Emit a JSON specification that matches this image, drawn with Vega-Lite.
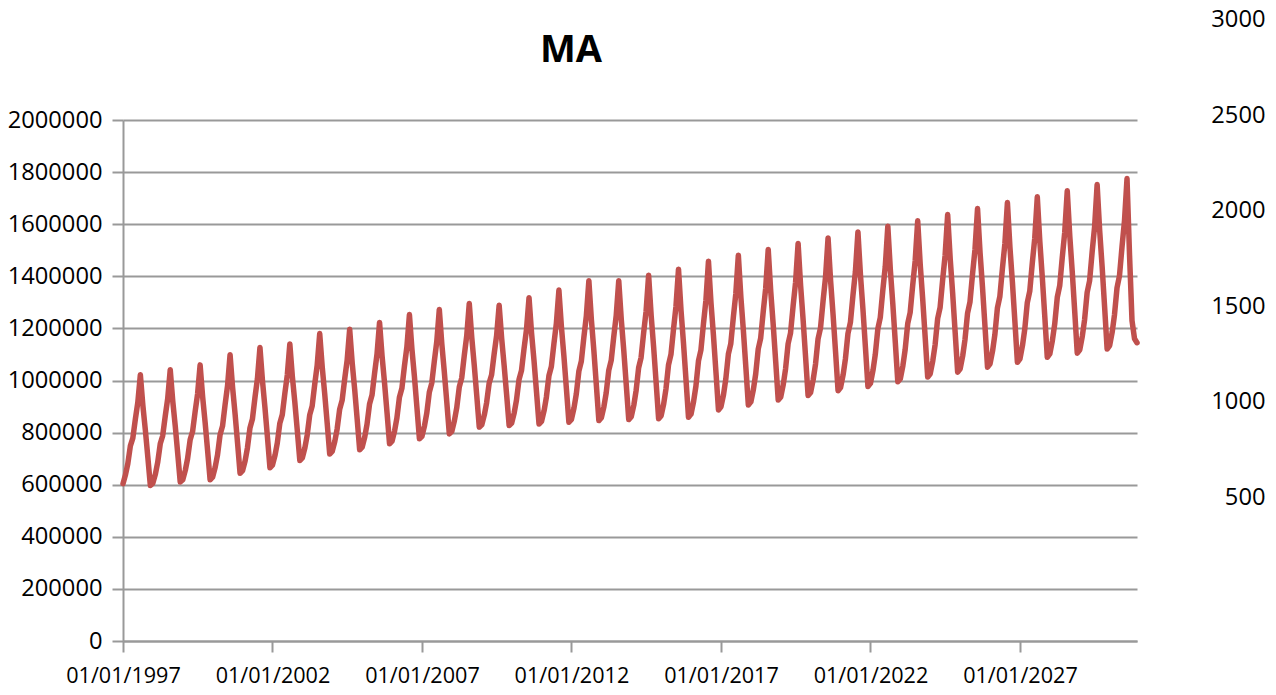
{
"$schema":"https://vega.github.io/schema/vega-lite/v6.json",
"width":1014,"height":521,
"autosize":{"type":"none"},
"padding":{"left":123,"top":120,"right":139,"bottom":54},
"background":"white",
"config":{"view":{"stroke":null},"font":"Open Sans"},
"title":{"text":"MA","font":"Open Sans","fontSize":38,"fontWeight":"bold","color":"#000000","anchor":"middle","frame":"group","dx":-59,"dy":112,"baseline":"alphabetic","offset":20},
"layer":[
{"data":{"values":[
{"d":"1997-01-01","v":604000},{"d":"1997-02-01","v":639000},{"d":"1997-03-01","v":681000},{"d":"1997-04-01","v":749000},{"d":"1997-05-01","v":779000},{"d":"1997-06-01","v":852000},{"d":"1997-07-01","v":916000},{"d":"1997-08-01","v":1022000},{"d":"1997-09-01","v":903000},{"d":"1997-10-01","v":810000},{"d":"1997-11-01","v":703000},{"d":"1997-12-01","v":597000},
{"d":"1998-01-01","v":606000},{"d":"1998-02-01","v":641000},{"d":"1998-03-01","v":686000},{"d":"1998-04-01","v":757000},{"d":"1998-05-01","v":788000},{"d":"1998-06-01","v":863000},{"d":"1998-07-01","v":930000},{"d":"1998-08-01","v":1041000},{"d":"1998-09-01","v":920000},{"d":"1998-10-01","v":826000},{"d":"1998-11-01","v":718000},{"d":"1998-12-01","v":610000},
{"d":"1999-01-01","v":619000},{"d":"1999-02-01","v":655000},{"d":"1999-03-01","v":700000},{"d":"1999-04-01","v":772000},{"d":"1999-05-01","v":804000},{"d":"1999-06-01","v":880000},{"d":"1999-07-01","v":948000},{"d":"1999-08-01","v":1060000},{"d":"1999-09-01","v":937000},{"d":"1999-10-01","v":840000},{"d":"1999-11-01","v":729000},{"d":"1999-12-01","v":619000},
{"d":"2000-01-01","v":629000},{"d":"2000-02-01","v":667000},{"d":"2000-03-01","v":715000},{"d":"2000-04-01","v":792000},{"d":"2000-05-01","v":825000},{"d":"2000-06-01","v":907000},{"d":"2000-07-01","v":979000},{"d":"2000-08-01","v":1099000},{"d":"2000-09-01","v":972000},{"d":"2000-10-01","v":872000},{"d":"2000-11-01","v":758000},{"d":"2000-12-01","v":644000},
{"d":"2001-01-01","v":654000},{"d":"2001-02-01","v":692000},{"d":"2001-03-01","v":741000},{"d":"2001-04-01","v":818000},{"d":"2001-05-01","v":852000},{"d":"2001-06-01","v":934000},{"d":"2001-07-01","v":1006000},{"d":"2001-08-01","v":1127000},{"d":"2001-09-01","v":998000},{"d":"2001-10-01","v":896000},{"d":"2001-11-01","v":781000},{"d":"2001-12-01","v":665000},
{"d":"2002-01-01","v":675000},{"d":"2002-02-01","v":713000},{"d":"2002-03-01","v":760000},{"d":"2002-04-01","v":836000},{"d":"2002-05-01","v":869000},{"d":"2002-06-01","v":950000},{"d":"2002-07-01","v":1021000},{"d":"2002-08-01","v":1140000},{"d":"2002-09-01","v":1015000},{"d":"2002-10-01","v":917000},{"d":"2002-11-01","v":805000},{"d":"2002-12-01","v":693000},
{"d":"2003-01-01","v":703000},{"d":"2003-02-01","v":742000},{"d":"2003-03-01","v":790000},{"d":"2003-04-01","v":868000},{"d":"2003-05-01","v":902000},{"d":"2003-06-01","v":985000},{"d":"2003-07-01","v":1058000},{"d":"2003-08-01","v":1180000},{"d":"2003-09-01","v":1051000},{"d":"2003-10-01","v":949000},{"d":"2003-11-01","v":834000},{"d":"2003-12-01","v":718000},
{"d":"2004-01-01","v":728000},{"d":"2004-02-01","v":766000},{"d":"2004-03-01","v":814000},{"d":"2004-04-01","v":890000},{"d":"2004-05-01","v":924000},{"d":"2004-06-01","v":1005000},{"d":"2004-07-01","v":1077000},{"d":"2004-08-01","v":1197000},{"d":"2004-09-01","v":1067000},{"d":"2004-10-01","v":966000},{"d":"2004-11-01","v":850000},{"d":"2004-12-01","v":734000},
{"d":"2005-01-01","v":744000},{"d":"2005-02-01","v":783000},{"d":"2005-03-01","v":832000},{"d":"2005-04-01","v":910000},{"d":"2005-05-01","v":944000},{"d":"2005-06-01","v":1027000},{"d":"2005-07-01","v":1101000},{"d":"2005-08-01","v":1223000},{"d":"2005-09-01","v":1093000},{"d":"2005-10-01","v":990000},{"d":"2005-11-01","v":874000},{"d":"2005-12-01","v":757000},
{"d":"2006-01-01","v":767000},{"d":"2006-02-01","v":807000},{"d":"2006-03-01","v":856000},{"d":"2006-04-01","v":936000},{"d":"2006-05-01","v":970000},{"d":"2006-06-01","v":1055000},{"d":"2006-07-01","v":1129000},{"d":"2006-08-01","v":1253000},{"d":"2006-09-01","v":1119000},{"d":"2006-10-01","v":1015000},{"d":"2006-11-01","v":895000},{"d":"2006-12-01","v":776000},
{"d":"2007-01-01","v":786000},{"d":"2007-02-01","v":826000},{"d":"2007-03-01","v":875000},{"d":"2007-04-01","v":955000},{"d":"2007-05-01","v":990000},{"d":"2007-06-01","v":1074000},{"d":"2007-07-01","v":1149000},{"d":"2007-08-01","v":1273000},{"d":"2007-09-01","v":1139000},{"d":"2007-10-01","v":1034000},{"d":"2007-11-01","v":915000},{"d":"2007-12-01","v":795000},
{"d":"2008-01-01","v":805000},{"d":"2008-02-01","v":845000},{"d":"2008-03-01","v":895000},{"d":"2008-04-01","v":975000},{"d":"2008-05-01","v":1010000},{"d":"2008-06-01","v":1096000},{"d":"2008-07-01","v":1171000},{"d":"2008-08-01","v":1296000},{"d":"2008-09-01","v":1163000},{"d":"2008-10-01","v":1059000},{"d":"2008-11-01","v":940000},{"d":"2008-12-01","v":821000},
{"d":"2009-01-01","v":830000},{"d":"2009-02-01","v":868000},{"d":"2009-03-01","v":915000},{"d":"2009-04-01","v":990000},{"d":"2009-05-01","v":1022000},{"d":"2009-06-01","v":1102000},{"d":"2009-07-01","v":1172000},{"d":"2009-08-01","v":1289000},{"d":"2009-09-01","v":1160000},{"d":"2009-10-01","v":1058000},{"d":"2009-11-01","v":943000},{"d":"2009-12-01","v":827000},
{"d":"2010-01-01","v":837000},{"d":"2010-02-01","v":876000},{"d":"2010-03-01","v":925000},{"d":"2010-04-01","v":1004000},{"d":"2010-05-01","v":1038000},{"d":"2010-06-01","v":1122000},{"d":"2010-07-01","v":1195000},{"d":"2010-08-01","v":1318000},{"d":"2010-09-01","v":1182000},{"d":"2010-10-01","v":1076000},{"d":"2010-11-01","v":954000},{"d":"2010-12-01","v":833000},
{"d":"2011-01-01","v":843000},{"d":"2011-02-01","v":884000},{"d":"2011-03-01","v":936000},{"d":"2011-04-01","v":1018000},{"d":"2011-05-01","v":1054000},{"d":"2011-06-01","v":1141000},{"d":"2011-07-01","v":1219000},{"d":"2011-08-01","v":1347000},{"d":"2011-09-01","v":1205000},{"d":"2011-10-01","v":1094000},{"d":"2011-11-01","v":967000},{"d":"2011-12-01","v":840000},
{"d":"2012-01-01","v":851000},{"d":"2012-02-01","v":894000},{"d":"2012-03-01","v":949000},{"d":"2012-04-01","v":1036000},{"d":"2012-05-01","v":1074000},{"d":"2012-06-01","v":1166000},{"d":"2012-07-01","v":1247000},{"d":"2012-08-01","v":1383000},{"d":"2012-09-01","v":1233000},{"d":"2012-10-01","v":1115000},{"d":"2012-11-01","v":980000},{"d":"2012-12-01","v":846000},
{"d":"2013-01-01","v":857000},{"d":"2013-02-01","v":900000},{"d":"2013-03-01","v":953000},{"d":"2013-04-01","v":1039000},{"d":"2013-05-01","v":1077000},{"d":"2013-06-01","v":1168000},{"d":"2013-07-01","v":1249000},{"d":"2013-08-01","v":1383000},{"d":"2013-09-01","v":1234000},{"d":"2013-10-01","v":1117000},{"d":"2013-11-01","v":983000},{"d":"2013-12-01","v":850000},
{"d":"2014-01-01","v":861000},{"d":"2014-02-01","v":905000},{"d":"2014-03-01","v":961000},{"d":"2014-04-01","v":1049000},{"d":"2014-05-01","v":1088000},{"d":"2014-06-01","v":1182000},{"d":"2014-07-01","v":1266000},{"d":"2014-08-01","v":1404000},{"d":"2014-09-01","v":1250000},{"d":"2014-10-01","v":1129000},{"d":"2014-11-01","v":991000},{"d":"2014-12-01","v":853000},
{"d":"2015-01-01","v":865000},{"d":"2015-02-01","v":910000},{"d":"2015-03-01","v":968000},{"d":"2015-04-01","v":1060000},{"d":"2015-05-01","v":1100000},{"d":"2015-06-01","v":1197000},{"d":"2015-07-01","v":1284000},{"d":"2015-08-01","v":1427000},{"d":"2015-09-01","v":1268000},{"d":"2015-10-01","v":1143000},{"d":"2015-11-01","v":1001000},{"d":"2015-12-01","v":859000},
{"d":"2016-01-01","v":871000},{"d":"2016-02-01","v":919000},{"d":"2016-03-01","v":979000},{"d":"2016-04-01","v":1075000},{"d":"2016-05-01","v":1117000},{"d":"2016-06-01","v":1218000},{"d":"2016-07-01","v":1308000},{"d":"2016-08-01","v":1458000},{"d":"2016-09-01","v":1298000},{"d":"2016-10-01","v":1173000},{"d":"2016-11-01","v":1030000},{"d":"2016-12-01","v":887000},
{"d":"2017-01-01","v":899000},{"d":"2017-02-01","v":946000},{"d":"2017-03-01","v":1006000},{"d":"2017-04-01","v":1101000},{"d":"2017-05-01","v":1142000},{"d":"2017-06-01","v":1243000},{"d":"2017-07-01","v":1333000},{"d":"2017-08-01","v":1481000},{"d":"2017-09-01","v":1320000},{"d":"2017-10-01","v":1194000},{"d":"2017-11-01","v":1050000},{"d":"2017-12-01","v":906000},
{"d":"2018-01-01","v":918000},{"d":"2018-02-01","v":966000},{"d":"2018-03-01","v":1025000},{"d":"2018-04-01","v":1121000},{"d":"2018-05-01","v":1163000},{"d":"2018-06-01","v":1264000},{"d":"2018-07-01","v":1354000},{"d":"2018-08-01","v":1503000},{"d":"2018-09-01","v":1341000},{"d":"2018-10-01","v":1214000},{"d":"2018-11-01","v":1070000},{"d":"2018-12-01","v":925000},
{"d":"2019-01-01","v":937000},{"d":"2019-02-01","v":985000},{"d":"2019-03-01","v":1045000},{"d":"2019-04-01","v":1141000},{"d":"2019-05-01","v":1183000},{"d":"2019-06-01","v":1286000},{"d":"2019-07-01","v":1376000},{"d":"2019-08-01","v":1526000},{"d":"2019-09-01","v":1363000},{"d":"2019-10-01","v":1234000},{"d":"2019-11-01","v":1088000},{"d":"2019-12-01","v":942000},
{"d":"2020-01-01","v":954000},{"d":"2020-02-01","v":1003000},{"d":"2020-03-01","v":1063000},{"d":"2020-04-01","v":1160000},{"d":"2020-05-01","v":1202000},{"d":"2020-06-01","v":1305000},{"d":"2020-07-01","v":1396000},{"d":"2020-08-01","v":1547000},{"d":"2020-09-01","v":1383000},{"d":"2020-10-01","v":1254000},{"d":"2020-11-01","v":1108000},{"d":"2020-12-01","v":961000},
{"d":"2021-01-01","v":973000},{"d":"2021-02-01","v":1022000},{"d":"2021-03-01","v":1083000},{"d":"2021-04-01","v":1180000},{"d":"2021-05-01","v":1223000},{"d":"2021-06-01","v":1326000},{"d":"2021-07-01","v":1418000},{"d":"2021-08-01","v":1570000},{"d":"2021-09-01","v":1404000},{"d":"2021-10-01","v":1274000},{"d":"2021-11-01","v":1125000},{"d":"2021-12-01","v":977000},
{"d":"2022-01-01","v":989000},{"d":"2022-02-01","v":1039000},{"d":"2022-03-01","v":1100000},{"d":"2022-04-01","v":1198000},{"d":"2022-05-01","v":1242000},{"d":"2022-06-01","v":1346000},{"d":"2022-07-01","v":1438000},{"d":"2022-08-01","v":1592000},{"d":"2022-09-01","v":1425000},{"d":"2022-10-01","v":1294000},{"d":"2022-11-01","v":1144000},{"d":"2022-12-01","v":995000},
{"d":"2023-01-01","v":1007000},{"d":"2023-02-01","v":1057000},{"d":"2023-03-01","v":1119000},{"d":"2023-04-01","v":1218000},{"d":"2023-05-01","v":1261000},{"d":"2023-06-01","v":1366000},{"d":"2023-07-01","v":1459000},{"d":"2023-08-01","v":1613000},{"d":"2023-09-01","v":1445000},{"d":"2023-10-01","v":1313000},{"d":"2023-11-01","v":1163000},{"d":"2023-12-01","v":1013000},
{"d":"2024-01-01","v":1026000},{"d":"2024-02-01","v":1075000},{"d":"2024-03-01","v":1138000},{"d":"2024-04-01","v":1238000},{"d":"2024-05-01","v":1281000},{"d":"2024-06-01","v":1387000},{"d":"2024-07-01","v":1481000},{"d":"2024-08-01","v":1637000},{"d":"2024-09-01","v":1468000},{"d":"2024-10-01","v":1335000},{"d":"2024-11-01","v":1183000},{"d":"2024-12-01","v":1032000},
{"d":"2025-01-01","v":1045000},{"d":"2025-02-01","v":1095000},{"d":"2025-03-01","v":1158000},{"d":"2025-04-01","v":1258000},{"d":"2025-05-01","v":1302000},{"d":"2025-06-01","v":1409000},{"d":"2025-07-01","v":1503000},{"d":"2025-08-01","v":1660000},{"d":"2025-09-01","v":1490000},{"d":"2025-10-01","v":1356000},{"d":"2025-11-01","v":1203000},{"d":"2025-12-01","v":1051000},
{"d":"2026-01-01","v":1064000},{"d":"2026-02-01","v":1114000},{"d":"2026-03-01","v":1177000},{"d":"2026-04-01","v":1279000},{"d":"2026-05-01","v":1323000},{"d":"2026-06-01","v":1430000},{"d":"2026-07-01","v":1525000},{"d":"2026-08-01","v":1683000},{"d":"2026-09-01","v":1511000},{"d":"2026-10-01","v":1377000},{"d":"2026-11-01","v":1223000},{"d":"2026-12-01","v":1070000},
{"d":"2027-01-01","v":1083000},{"d":"2027-02-01","v":1134000},{"d":"2027-03-01","v":1197000},{"d":"2027-04-01","v":1299000},{"d":"2027-05-01","v":1343000},{"d":"2027-06-01","v":1451000},{"d":"2027-07-01","v":1546000},{"d":"2027-08-01","v":1705000},{"d":"2027-09-01","v":1533000},{"d":"2027-10-01","v":1397000},{"d":"2027-11-01","v":1243000},{"d":"2027-12-01","v":1089000},
{"d":"2028-01-01","v":1102000},{"d":"2028-02-01","v":1153000},{"d":"2028-03-01","v":1217000},{"d":"2028-04-01","v":1319000},{"d":"2028-05-01","v":1364000},{"d":"2028-06-01","v":1472000},{"d":"2028-07-01","v":1568000},{"d":"2028-08-01","v":1728000},{"d":"2028-09-01","v":1554000},{"d":"2028-10-01","v":1417000},{"d":"2028-11-01","v":1261000},{"d":"2028-12-01","v":1105000},
{"d":"2029-01-01","v":1118000},{"d":"2029-02-01","v":1170000},{"d":"2029-03-01","v":1234000},{"d":"2029-04-01","v":1338000},{"d":"2029-05-01","v":1383000},{"d":"2029-06-01","v":1493000},{"d":"2029-07-01","v":1590000},{"d":"2029-08-01","v":1752000},{"d":"2029-09-01","v":1575000},{"d":"2029-10-01","v":1437000},{"d":"2029-11-01","v":1279000},{"d":"2029-12-01","v":1121000},
{"d":"2030-01-01","v":1134000},{"d":"2030-02-01","v":1186000},{"d":"2030-03-01","v":1252000},{"d":"2030-04-01","v":1356000},{"d":"2030-05-01","v":1402000},{"d":"2030-06-01","v":1513000},{"d":"2030-07-01","v":1612000},{"d":"2030-08-01","v":1775000},{"d":"2030-09-01","v":1480000},{"d":"2030-10-01","v":1230000},{"d":"2030-11-01","v":1160000},{"d":"2030-12-01","v":1145000}
]},
"mark":{"type":"line","color":"#C0504D","strokeWidth":5.5,"strokeJoin":"round","strokeCap":"round"},
"encoding":{
"x":{"field":"d","type":"temporal","scale":{"type":"utc","domain":[{"year":1997,"month":1,"date":1,"utc":true},{"year":2030,"month":12,"date":1,"utc":true}]},
"axis":{"title":null,"values":[{"year":1997,"month":1,"date":1,"utc":true},{"year":2002,"month":1,"date":1,"utc":true},{"year":2007,"month":1,"date":1,"utc":true},{"year":2012,"month":1,"date":1,"utc":true},{"year":2017,"month":1,"date":1,"utc":true},{"year":2022,"month":1,"date":1,"utc":true},{"year":2027,"month":1,"date":1,"utc":true}],
"format":"%d/%m/%Y","labelFlush":false,"labelOverlap":false,"labelAngle":0,"grid":false,"tickSize":11,"tickColor":"#999999","tickWidth":2,"domainColor":"#999999","domainWidth":2,"labelPadding":13,"labelFontSize":21.6,"labelFont":"Open Sans","labelColor":"#000000"}},
"y":{"field":"v","type":"quantitative","scale":{"domain":[0,2000000]},
"axis":{"title":null,"values":[0,200000,400000,600000,800000,1000000,1200000,1400000,1600000,1800000,2000000],"format":"d","grid":true,"gridColor":"#999999","gridWidth":2,"tickSize":11,"tickColor":"#999999","tickWidth":2,"domainColor":"#999999","domainWidth":2,"labelPadding":10,"labelFontSize":23.7,"labelFont":"Open Sans","labelColor":"#000000"}}
}},
{"data":{"values":[{"r":0},{"r":3000}]},
"mark":{"type":"point","opacity":0},
"encoding":{"y":{"field":"r","type":"quantitative","scale":{"domain":[0,3000],"range":[473,-100.5]},
"axis":{"orient":"right","title":null,"values":[500,1000,1500,2000,2500,3000],"format":"d","grid":false,"domain":false,"ticks":false,"labelAlign":"right","labelBaseline":"middle","labelPadding":128,"labelFontSize":23.7,"labelFont":"Open Sans","labelColor":"#000000"}}}}
],
"resolve":{"scale":{"y":"independent"}}
}
